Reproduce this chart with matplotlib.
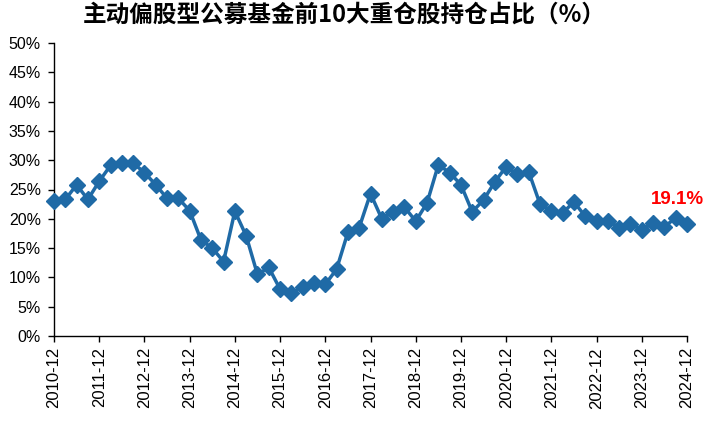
import matplotlib
matplotlib.use("Agg")
import matplotlib.pyplot as plt
from matplotlib.ticker import FuncFormatter, FixedLocator
import numpy as np

# quarterly values, 2010-12 .. 2024-12 (%)
values = [23.0, 23.3, 25.8, 23.3, 26.4, 29.1, 29.6, 29.5, 27.9, 25.8,
          23.5, 23.5, 21.4, 16.4, 15.0, 12.7, 21.3, 17.1, 10.5, 11.7,
          8.0, 7.3, 8.4, 9.0, 8.8, 11.4, 17.7, 18.5, 24.3, 20.0,
          21.2, 22.0, 19.6, 22.7, 29.2, 27.9, 25.8, 21.2, 23.2, 26.3,
          28.9, 27.6, 28.0, 22.5, 21.4, 21.0, 22.9, 20.4, 19.7, 19.7,
          18.5, 19.1, 18.1, 19.3, 18.6, 20.2, 19.1]
years = list(range(2010, 2025))
year_labels = [f"{y}-12" for y in years]
title = "主动偏股型公募基金前10大重仓股持仓占比（%）"
last_label = "19.1%"

fig = plt.figure(figsize=(7.11, 4.26), dpi=100)
ax = fig.add_axes([54/711, 1 - 336/426, (687 - 54)/711, (336 - 43)/426])

x = np.arange(len(values))
ax.plot(x, values, color="#1f6aa6", lw=2.5, marker="D", markersize=8.5,
        markeredgecolor="#1f6aa6", clip_on=False, zorder=3)

ax.set_xlim(0, len(values) - 1)
ax.set_ylim(0, 50)
ax.set_yticks(np.arange(0, 51, 5))
ax.yaxis.set_major_formatter(FuncFormatter(lambda v, p: f"{int(v)}%"))
ax.xaxis.set_major_locator(FixedLocator([i * 4 for i in range(len(years))]))
ax.set_xticklabels(year_labels, rotation=90)

for s in ["top", "right"]:
    ax.spines[s].set_visible(False)
for s in ["left", "bottom"]:
    ax.spines[s].set_linewidth(1.0)

ax.tick_params(axis="both", direction="out", length=4.5, width=1.0)
ax.tick_params(axis="x", labelsize=12, pad=3.5)
ax.tick_params(axis="y", labelsize=11.5, pad=5)
for lab in ax.get_xticklabels() + ax.get_yticklabels():
    lab.set_family(["Liberation Sans", "DejaVu Sans"])

ax.annotate(last_label, xy=(x[-1], values[-1]), xytext=(-7, 18),
            textcoords="offset points", ha="center", va="center",
            color="#ff0000", fontsize=13.5, fontweight="bold",
            family=["Liberation Sans", "DejaVu Sans"])

fig.text(344/711, 1 - 15/426, title, ha="center", va="center",
         fontsize=17, fontweight="bold",
         family=["Noto Sans CJK SC", "DejaVu Sans"])

fig.savefig("out.png", dpi=100)
